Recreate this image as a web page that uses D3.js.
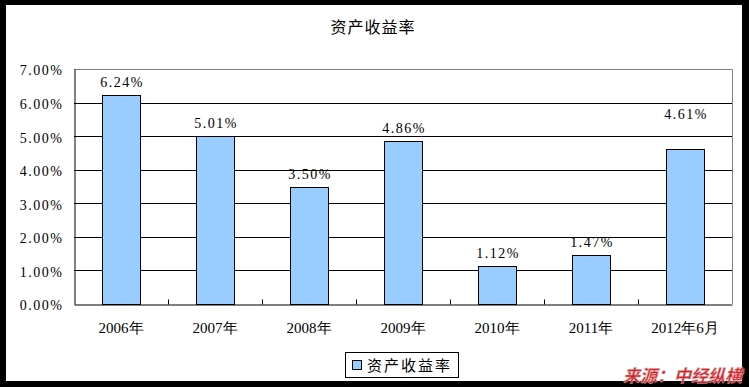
<!DOCTYPE html>
<html>
<head>
<meta charset="utf-8">
<script src="https://cdn.jsdelivr.net/npm/d3@7"></script>
<style>
  body { margin: 0; background: #000; }
  svg { display: block; }
</style>
</head>
<body>
<svg id="chart" width="749" height="387"></svg>
<script>
// data
var years = ['2006年', '2007年', '2008年', '2009年', '2010年', '2011年', '2012年6月'];
var roa = [6.24, 5.01, 3.50, 4.86, 1.12, 1.47, 4.61];
var yTicks = [0, 1, 2, 3, 4, 5, 6, 7];
var seriesName = '资产收益率';
// the last label sits higher in the original (moved by hand in the source file)
var labelLift = [0, 0, 0, 0, 0, 0, 22];

var svg = d3.select('#chart');
var numFont = '"Liberation Serif", "DejaVu Serif", serif';
var cjkFont = '"Noto Sans CJK SC", sans-serif';

// white page inside the black frame
svg.append('rect').attr('x', 6).attr('y', 5).attr('width', 736).attr('height', 376).attr('fill', '#fff');

// plot area  (note: "top" is taken by window.top, so use plot* names)
var plotL = 74, plotR = 732, plotT = 69, plotB = 304;

var x = d3.scaleBand().domain(years).range([plotL, plotR]).paddingInner(0).paddingOuter(0);
var y = d3.scaleLinear().domain([0, 7]).range([plotB, plotT]);

// gridlines (black), top border gray
svg.append('g').selectAll('line').data(yTicks.slice(1, -1)).join('line')
  .attr('x1', plotL).attr('x2', plotR)
  .attr('y1', d => Math.round(y(d)) + 0.5).attr('y2', d => Math.round(y(d)) + 0.5)
  .attr('stroke', '#000').attr('stroke-width', 1);

svg.append('path')
  .attr('d', 'M' + plotL + ',' + (plotT + 0.5) + 'H' + (plotR + 0.5) + 'V' + plotB)
  .attr('fill', 'none').attr('stroke', '#808080');

// bars
var barW = x.bandwidth() * 0.4;
svg.append('g').selectAll('rect').data(roa).join('rect')
  .attr('x', (d, i) => Math.round(x(years[i]) + x.bandwidth() / 2 - barW / 2) + 0.5)
  .attr('y', d => Math.round(y(d)) + 0.5)
  .attr('width', Math.round(barW))
  .attr('height', d => plotB - Math.round(y(d)))
  .attr('fill', '#99ccff').attr('stroke', '#000').attr('stroke-width', 1);

// value labels
svg.append('g').selectAll('text').data(roa).join('text')
  .attr('x', (d, i) => x(years[i]) + x.bandwidth() / 2 + 1)
  .attr('y', (d, i) => y(d) - 8 - labelLift[i])
  .attr('text-anchor', 'middle')
  .attr('font-family', numFont).attr('font-size', 14).attr('letter-spacing', 1.5)
  .text(d => d.toFixed(2) + '%');

// y axis
var yAxis = d3.axisLeft(y).tickValues(yTicks).tickSize(0).tickPadding(11)
  .tickFormat(d => d.toFixed(2) + '%');
var gy = svg.append('g').attr('transform', 'translate(' + (plotL + 0.5) + ',0)').call(yAxis);
gy.select('.domain').attr('stroke', '#000');
gy.selectAll('text').attr('font-family', numFont).attr('font-size', 14)
  .attr('letter-spacing', 1.5).attr('dy', '0.42em').attr('fill', '#000');

// x axis, ticks point up at category edges
var xAxis = d3.axisBottom(x).tickSize(0).tickPadding(18);
var gx = svg.append('g').attr('transform', 'translate(0,' + (plotB + 0.5) + ')').call(xAxis);
gx.select('.domain').attr('stroke', '#000');
gx.selectAll('text').attr('font-family', numFont).attr('font-size', 15).attr('fill', '#000');
gx.append('g').selectAll('line').data(years.slice(1)).join('line')
  .attr('x1', d => Math.round(x(d)) + 0.5).attr('x2', d => Math.round(x(d)) + 0.5)
  .attr('y1', -5).attr('y2', 0).attr('stroke', '#000');

// title
svg.append('text').attr('x', 373).attr('y', 33).attr('text-anchor', 'middle')
  .attr('font-family', cjkFont).attr('font-size', 16).attr('letter-spacing', 1).text(seriesName);

// legend
var lg = svg.append('g').attr('transform', 'translate(345,352)');
lg.append('rect').attr('x', 0.5).attr('y', 0.5).attr('width', 113).attr('height', 25)
  .attr('fill', '#fff').attr('stroke', '#000');
lg.append('rect').attr('x', 7.5).attr('y', 8.5).attr('width', 9).attr('height', 9)
  .attr('fill', '#99ccff').attr('stroke', '#000');
lg.append('text').attr('x', 22).attr('y', 19)
  .attr('font-family', cjkFont).attr('font-size', 15).attr('letter-spacing', 2).text(seriesName);

// source note
svg.append('text').attr('x', 742).attr('y', 382).attr('text-anchor', 'end')
  .attr('font-family', cjkFont).attr('font-size', 17).attr('font-weight', 'bold')
  .attr('font-style', 'italic').attr('fill', '#c8282d')
  .attr('stroke', '#e8a0a0').attr('stroke-width', 0.5)
  .text('来源：中经纵横');
</script>
</body>
</html>
